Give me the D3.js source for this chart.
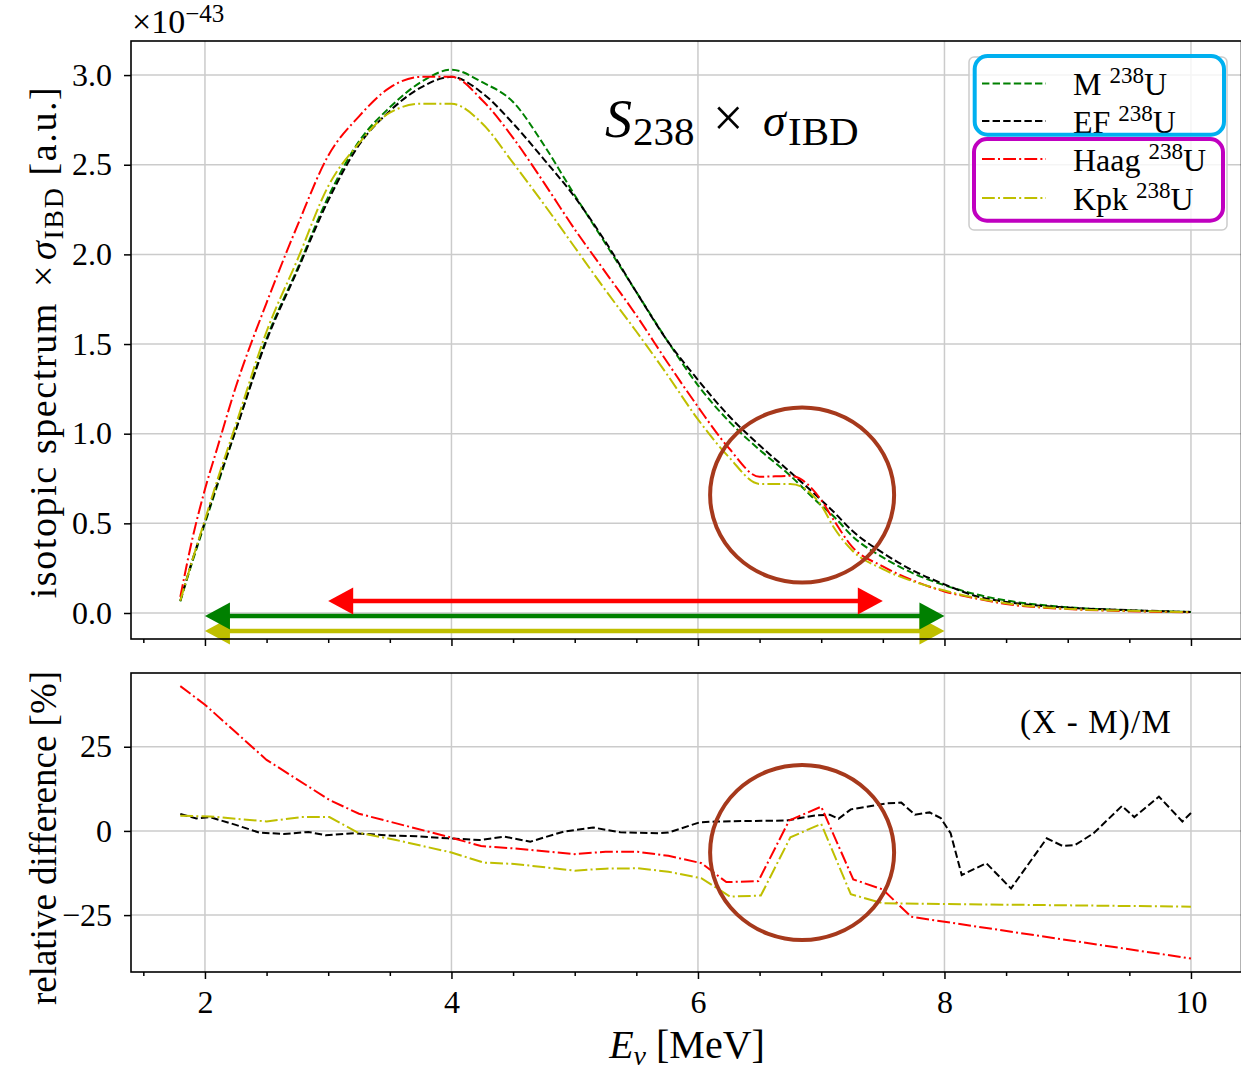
<!DOCTYPE html>
<html><head><meta charset="utf-8">
<script src="https://cdn.jsdelivr.net/npm/d3@7"></script>
<style>
body{margin:0;background:#fff}
svg{display:block}
text{font-family:'Liberation Serif','Times New Roman',serif;fill:#000}
</style>
</head><body>
<svg id="c" width="1241" height="1074"></svg>
<script>
// ---------------- data ----------------
const energyTop = [1.8,1.9,2.0,2.1,2.25,2.5,2.75,3.0,3.25,3.5,3.75,4.0,4.25,4.5,4.75,5.0,5.25,5.5,5.75,6.0,6.25,6.5,6.75,7.0,7.1,7.25,7.5,7.75,8.0,8.25,8.5,9.0,9.5,10.0];
const specM    = [0.065,0.29,0.50,0.71,1.02,1.53,1.92,2.32,2.63,2.82,2.96,3.03,2.96,2.85,2.61,2.33,2.06,1.79,1.52,1.27,1.07,0.91,0.765,0.60,0.54,0.43,0.31,0.22,0.155,0.105,0.07,0.032,0.015,0.006];
const specEF   = [0.068,0.30,0.51,0.72,1.02,1.52,1.91,2.30,2.61,2.80,2.93,2.99,2.90,2.73,2.53,2.32,2.07,1.79,1.52,1.30,1.10,0.935,0.785,0.63,0.565,0.46,0.335,0.235,0.16,0.095,0.062,0.03,0.016,0.006];
const specHaag = [0.09,0.42,0.69,0.92,1.26,1.73,2.16,2.55,2.77,2.93,2.99,2.99,2.86,2.65,2.40,2.14,1.90,1.66,1.40,1.15,0.92,0.76,0.765,0.63,0.52,0.37,0.26,0.18,0.12,0.082,0.05,0.022,0.01,0.004];
const specKpk  = [0.068,0.30,0.52,0.74,1.05,1.57,1.97,2.38,2.62,2.79,2.84,2.84,2.73,2.51,2.28,2.04,1.80,1.57,1.33,1.08,0.87,0.72,0.72,0.60,0.48,0.35,0.245,0.175,0.125,0.085,0.055,0.023,0.012,0.005];

const diffEF_E = [1.8,1.93,2.04,2.25,2.44,2.64,2.84,2.98,3.21,3.52,3.72,3.97,4.23,4.43,4.64,4.91,5.15,5.37,5.68,5.76,6.01,6.14,6.72,6.95,7.07,7.14,7.24,7.53,7.65,7.76,7.88,7.97,8.05,8.14,8.34,8.54,8.83,8.96,9.06,9.21,9.44,9.54,9.74,9.93,10.0];
const diffEF   = [5.0,3.7,4.1,1.8,-0.5,-0.9,-0.3,-1.3,-0.7,-1.4,-1.6,-2.2,-2.7,-1.7,-3.2,-0.2,1.0,-0.4,-0.7,-0.5,2.5,2.8,3.1,4.6,4.8,3.6,6.4,8.2,8.4,4.8,5.5,3.8,-0.7,-13.1,-9.6,-17.1,-2.2,-4.5,-4.2,-0.7,7.4,4.1,10.2,2.8,5.3];
const diffHaag_E = [1.8,2.0,2.5,3.01,3.25,3.97,4.24,4.51,5.0,5.25,5.51,5.76,6.03,6.23,6.49,6.74,7.0,7.26,7.5,7.73,10.0];
const diffHaag   = [43,37.5,21.1,9.2,5.1,-1.7,-4.5,-5.2,-6.9,-6.2,-6.2,-7.4,-9.6,-15.2,-14.9,3.1,7.2,-14.4,-17.4,-25.5,-37.9];
const diffKpk_E = [1.8,2.04,2.5,2.78,3.01,3.24,3.55,4.0,4.26,4.51,5.0,5.25,5.51,5.76,6.03,6.26,6.51,6.75,7.0,7.24,7.5,10.0];
const diffKpk   = [4.5,4.3,2.8,4.1,4.1,-0.5,-2.7,-6.4,-9.4,-9.8,-11.8,-11.2,-11.1,-12.1,-14.1,-19.5,-19.2,-1.9,2.1,-18.8,-21.5,-22.5];

const xMajorTicks = [2,4,6,8,10];
const xMinorTicks = [1.5,2.5,3,3.5,4.5,5,5.5,6.5,7,7.5,8.5,9,9.5];
const yTopTicks = [0,0.5,1.0,1.5,2.0,2.5,3.0];
const yBotTicks = [-25,0,25];

const legendLabels = ['M','EF','Haag','Kpk'];
// range arrows (MeV) and their heights (spectrum units)
const arrowStart = [2.0,2.0,3.0];
const arrowEnd   = [8.0,8.0,7.5];
const arrowLevel = [-0.10,-0.017,0.067];
// highlighted region centre
const highlightE = 6.845, highlightTop = 0.658, highlightDiff = -6.4;

// ---------------- styles ----------------
const cGreen='#008000', cBlack='#000000', cRed='#ff0000', cYel='#bfbf00';
const dash='7.4,3.2', dashdot='12.8,3.2,2,3.2';
const seriesTop = [
  {v:specM,c:cGreen,d:dash},{v:specEF,c:cBlack,d:dash},
  {v:specHaag,c:cRed,d:dashdot},{v:specKpk,c:cYel,d:dashdot}];
const seriesBot = [
  {e:diffEF_E,v:diffEF,c:cBlack,d:dash},
  {e:diffHaag_E,v:diffHaag,c:cRed,d:dashdot},
  {e:diffKpk_E,v:diffKpk,c:cYel,d:dashdot}];
const arrowColors=[cYel,cGreen,cRed];

const svg=d3.select('#c');
const L=131,R=1241.5;
const x=d3.scaleLinear().domain([1.4,10.41]).range([L,R]);
const yTop=d3.scaleLinear().domain([-0.145,3.19]).range([639,41]);
const yBot=d3.scaleLinear().domain([-41.9,46.9]).range([972,673]);
const gridC='#cbcbcb';

function panel(yS, yTicks, yFmt, xLabels, id){
  const g=svg.append('g');
  const [yb,yt]=yS.range();
  svg.append('clipPath').attr('id',id).append('rect').attr('x',L).attr('y',yt).attr('width',R-L).attr('height',yb-yt);
  g.append('g').selectAll('line').data(xMajorTicks).join('line')
    .attr('x1',d=>x(d)).attr('x2',d=>x(d)).attr('y1',yb).attr('y2',yt)
    .attr('stroke',gridC).attr('stroke-width',1.5);
  g.append('g').selectAll('line').data(yTicks).join('line')
    .attr('x1',L).attr('x2',R).attr('y1',d=>yS(d)).attr('y2',d=>yS(d))
    .attr('stroke',gridC).attr('stroke-width',1.5);
  const ax=g.append('g').attr('transform',`translate(0,${yb})`)
    .call(d3.axisBottom(x).tickValues(xMajorTicks).tickSize(7).tickPadding(11)
      .tickFormat(xLabels?d3.format('d'):''));
  const axm=g.append('g').attr('transform',`translate(0,${yb})`)
    .call(d3.axisBottom(x).tickValues(xMinorTicks).tickSize(4).tickFormat(''));
  const ay=g.append('g').attr('transform',`translate(${L},0)`)
    .call(d3.axisLeft(yS).tickValues(yTicks).tickSize(7).tickPadding(12).tickFormat(yFmt));
  [ax,axm,ay].forEach(a=>{a.select('.domain').remove();
    a.selectAll('line').attr('stroke','#000').attr('stroke-width',1.5);
    a.selectAll('text').attr('font-size',32).attr('font-family',"'Liberation Serif',serif");});
  return {g,yb,yt};
}

// ---- top panel
const P1=panel(yTop,yTopTicks,d3.format('.1f'),false,'clipTop');
const lt=P1.g.append('g').attr('clip-path','url(#clipTop)');
seriesTop.forEach(s=>{
  lt.append('path').datum(energyTop.map((e,i)=>[e,s.v[i]]))
    .attr('d',d3.line().x(d=>x(d[0])).y(d=>yTop(d[1])).curve(d3.curveMonotoneX))
    .attr('fill','none').attr('stroke',s.c).attr('stroke-width',2).attr('stroke-dasharray',s.d);
});
// arrows
const headLen=25, headHalf=13.5;
arrowStart.forEach((s,i)=>{
  const x0=x(s), x1=x(arrowEnd[i]), yy=yTop(arrowLevel[i]), c=arrowColors[i];
  P1.g.append('line').attr('x1',x0+headLen-1).attr('x2',x1-headLen+1).attr('y1',yy).attr('y2',yy)
    .attr('stroke',c).attr('stroke-width',4.5);
  P1.g.append('path').attr('d',`M${x0},${yy}L${x0+headLen},${yy-headHalf}L${x0+headLen},${yy+headHalf}Z`).attr('fill',c);
  P1.g.append('path').attr('d',`M${x1},${yy}L${x1-headLen},${yy-headHalf}L${x1-headLen},${yy+headHalf}Z`).attr('fill',c);
});
P1.g.append('rect').attr('x',L).attr('y',P1.yt).attr('width',R-L).attr('height',P1.yb-P1.yt)
  .attr('fill','none').attr('stroke','#000').attr('stroke-width',1.6);
const circC='#a6391c';
P1.g.append('ellipse').attr('cx',x(highlightE)).attr('cy',yTop(highlightTop)).attr('rx',92).attr('ry',87.5)
  .attr('fill','none').attr('stroke',circC).attr('stroke-width',4);

// ---- bottom panel
const P2=panel(yBot,yBotTicks,d3.format('d'),true,'clipBot');
const lb=P2.g.append('g').attr('clip-path','url(#clipBot)');
seriesBot.forEach(s=>{
  lb.append('path').datum(s.e.map((e,i)=>[e,s.v[i]]))
    .attr('d',d3.line().x(d=>x(d[0])).y(d=>yBot(d[1])))
    .attr('fill','none').attr('stroke',s.c).attr('stroke-width',2).attr('stroke-dasharray',s.d);
});
P2.g.append('rect').attr('x',L).attr('y',P2.yt).attr('width',R-L).attr('height',P2.yb-P2.yt)
  .attr('fill','none').attr('stroke','#000').attr('stroke-width',1.6);
P2.g.append('ellipse').attr('cx',x(highlightE)).attr('cy',yBot(highlightDiff)).attr('rx',92).attr('ry',87.5)
  .attr('fill','none').attr('stroke',circC).attr('stroke-width',4);

// ---- texts
// multiplier
const mt=svg.append('text').attr('x',132).attr('y',33).attr('font-size',34);
mt.append('tspan').text('×10');
mt.append('tspan').attr('dy',-11).attr('font-size',25).text('−43');

// title
svg.append('text').attr('x',605).attr('y',137).attr('font-size',54).attr('font-style','italic').text('S');
svg.append('text').attr('x',633).attr('y',145).attr('font-size',41).text('238');
svg.append('text').attr('x',713).attr('y',136).attr('font-size',54).text('×');
svg.append('text').attr('x',763).attr('y',136).attr('font-size',46).attr('font-style','italic').text('σ');
svg.append('text').attr('x',788).attr('y',145).attr('font-size',41).text('IBD');

// (X - M)/M
svg.append('text').attr('x',1096).attr('y',733).attr('font-size',33).attr('letter-spacing',1.2)
  .attr('text-anchor','middle').text('(X - M)/M');

// x label
const xl=svg.append('text').attr('x',687).attr('y',1058).attr('font-size',40).attr('text-anchor','middle');
xl.append('tspan').attr('font-style','italic').text('E');
xl.append('tspan').attr('font-style','italic').attr('font-size',28).attr('dy',7).text('ν');
xl.append('tspan').attr('dy',-7).text(' [MeV]');

// y labels
const yl1=svg.append('text').attr('transform','translate(56,342) rotate(-90)').attr('font-size',38)
  .attr('letter-spacing',1.6).attr('text-anchor','middle');
yl1.append('tspan').text('isotopic spectrum ');
yl1.append('tspan').attr('dx',4).text('×');
yl1.append('tspan').attr('dx',4).attr('font-style','italic').text('σ');
yl1.append('tspan').attr('font-size',28).attr('dy',7).text('IBD');
yl1.append('tspan').attr('dy',-7).text(' [a.u.]');
svg.append('text').attr('transform','translate(56,838) rotate(-90)').attr('font-size',37).attr('text-anchor','middle')
  .text('relative difference [%]');

// ---- legend
const lg=svg.append('g');
lg.append('rect').attr('x',969).attr('y',57).attr('width',258).attr('height',173).attr('rx',5)
  .attr('fill','#fff').attr('fill-opacity',0.8).attr('stroke','#cccccc').attr('stroke-width',1.5);
const legBase=[95,132.5,170.5,209.5];
seriesTop.forEach((s,i)=>{
  lg.append('line').attr('x1',982).attr('x2',1046).attr('y1',legBase[i]-11.5).attr('y2',legBase[i]-11.5)
    .attr('stroke',s.c).attr('stroke-width',2).attr('stroke-dasharray',s.d);
  const t=lg.append('text').attr('x',1073).attr('y',legBase[i]).attr('font-size',32);
  t.append('tspan').text(legendLabels[i]+' ');
  t.append('tspan').attr('dy',-12).attr('font-size',23).text('238');
  t.append('tspan').attr('dy',12).text('U');
});
lg.append('rect').attr('x',974.7).attr('y',56).attr('width',249.3).attr('height',78.7).attr('rx',13)
  .attr('fill','none').attr('stroke','#00b0f0').attr('stroke-width',4);
lg.append('rect').attr('x',974).attr('y',139).attr('width',249).attr('height',81.7).attr('rx',13)
  .attr('fill','none').attr('stroke','#c000c0').attr('stroke-width',4);
</script>
</body></html>
